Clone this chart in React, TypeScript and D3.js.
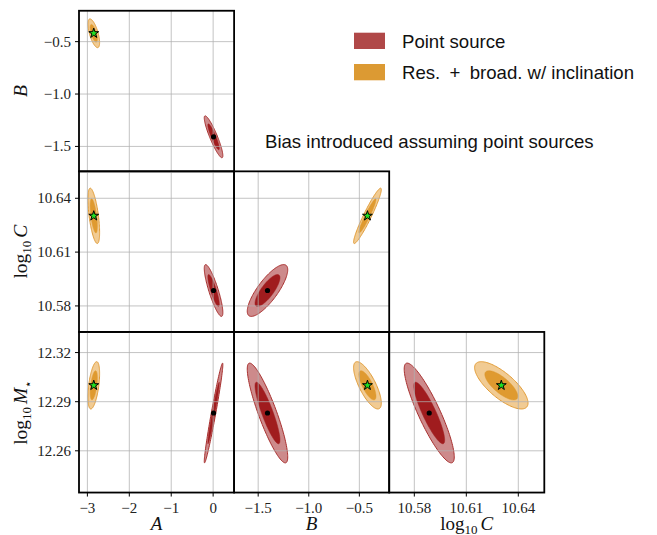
import React, { useEffect, useRef } from 'react';
import * as d3 from 'd3';

// parameter order: A, B, log10 C, log10 M*
const params = ['A', 'B', 'C', 'M'];
const domains: Record<string, [number, number]> = {
  A: [-3.2, 0.5],
  B: [-1.738, -0.205],
  C: [10.5655, 10.655],
  M: [12.2345, 12.3326],
};
const ticksA = [-3, -2, -1, 0];
const ticksB = [-1.5, -1.0, -0.5];
const ticksC = [10.58, 10.61, 10.64];
const ticksM = [12.26, 12.29, 12.32];
const tickLabelsA = ['−3', '−2', '−1', '0'];
const tickLabelsB = ['−1.5', '−1.0', '−0.5'];
const tickLabelsC = ['10.58', '10.61', '10.64'];
const tickLabelsM = ['12.26', '12.29', '12.32'];

// point source fit (biased)
const pointMean = [0.01, -1.408, 10.5886, 12.2831];
const pointSigma = [0.0906, 0.0817, 0.0059, 0.01245];
const pointCorr: Record<string, number> = { AB: -0.9, AC: -0.85, AM: 0.97, BC: 0.8, BM: -0.88, CM: -0.88 };

// resolved + broadened fit with inclination (unbiased)
const truthMean = [-2.848, -0.42, 10.6302, 12.3];
const truthSigma = [0.057, 0.056, 0.0063, 0.0059];
const truthCorr: Record<string, number> = { AB: -0.65, AC: -0.6, AM: 0.5, BC: 0.95, BM: -0.75, CM: -0.75 };

const levels = [0.95, 0.68];
const legendLabels = ['Point source', 'Res.\u2002+\u2002broad. w/ inclination'];

export default function App() {
  const svgRef = useRef<SVGSVGElement>(null);
  const width = 657;
  const height = 535;

  useEffect(() => {
    const svg = d3.select(svgRef.current);
    svg.selectAll('*').remove();

    const left = 79;
    const top = 10.75;
    const pw = 155.1;
    const ph = 160.6;
    const serif = 'Liberation Serif, serif';
    const sans = 'Liberation Sans, sans-serif';

    const ticks: Record<string, number[]> = { A: ticksA, B: ticksB, C: ticksC, M: ticksM };
    const tickLabels: Record<string, string[]> = { A: tickLabelsA, B: tickLabelsB, C: tickLabelsC, M: tickLabelsM };

    const sets = [
      { mean: pointMean, sigma: pointSigma, corr: pointCorr, fills: ['#cd8a8b', '#a01c1e'], edge: '#a8302f' },
      { mean: truthMean, sigma: truthSigma, corr: truthCorr, fills: ['#f1cb93', '#df9a30'], edge: '#e29c36' },
    ];

    const line = d3.line().curve(d3.curveLinearClosed);

    function ellipse(mx: number, my: number, sx: number, sy: number, rho: number, r: number) {
      return d3.range(120).map(k => {
        const t = (2 * Math.PI * k) / 120;
        const u = Math.cos(t);
        const v = Math.sin(t);
        return [mx + r * sx * u, my + r * sy * (rho * u + Math.sqrt(1 - rho * rho) * v)];
      });
    }

    for (let row = 0; row < 3; row++) {
      for (let col = 0; col <= row; col++) {
        const xi = col;
        const yi = row + 1;
        const xp = params[xi];
        const yp = params[yi];
        const x0 = left + col * pw;
        const y0 = top + row * ph;
        const x = d3.scaleLinear().domain(domains[xp]).range([x0, x0 + pw]);
        const y = d3.scaleLinear().domain(domains[yp]).range([y0 + ph, y0]);

        const g = svg.append('g');
        const clipId = `clip-${row}-${col}`;
        g.append('clipPath').attr('id', clipId)
          .append('rect').attr('x', x0).attr('y', y0).attr('width', pw).attr('height', ph);
        const inner = g.append('g').attr('clip-path', `url(#${clipId})`);

        // contours
        sets.forEach(s => {
          const rho = s.corr[xp + yp];
          levels.forEach((p, li) => {
            const r = Math.sqrt(-2 * Math.log(1 - p));
            const pts = ellipse(s.mean[xi], s.mean[yi], s.sigma[xi], s.sigma[yi], rho, r)
              .map(d => [x(d[0]), y(d[1])] as [number, number]);
            inner.append('path')
              .attr('d', line(pts))
              .attr('fill', s.fills[li])
              .attr('stroke', li === 0 ? s.edge : s.fills[li])
              .attr('stroke-width', li === 0 ? 1 : 0.5);
          });
        });

        // grid on top, semi transparent
        ticks[xp].forEach(t => {
          inner.append('line').attr('x1', x(t)).attr('x2', x(t)).attr('y1', y0).attr('y2', y0 + ph)
            .attr('stroke', '#b0b0b0').attr('stroke-width', 1).attr('opacity', 0.75);
        });
        ticks[yp].forEach(t => {
          inner.append('line').attr('x1', x0).attr('x2', x0 + pw).attr('y1', y(t)).attr('y2', y(t))
            .attr('stroke', '#b0b0b0').attr('stroke-width', 1).attr('opacity', 0.75);
        });

        // markers
        inner.append('circle')
          .attr('cx', x(pointMean[xi])).attr('cy', y(pointMean[yi])).attr('r', 2.6).attr('fill', '#000');
        inner.append('path')
          .attr('d', d3.symbol(d3.symbolStar, 30)())
          .attr('transform', `translate(${x(truthMean[xi])},${y(truthMean[yi])})`)
          .attr('fill', '#22e022').attr('stroke', '#000').attr('stroke-width', 1);

        // frame
        g.append('rect').attr('x', x0).attr('y', y0).attr('width', pw).attr('height', ph)
          .attr('fill', 'none').attr('stroke', '#000').attr('stroke-width', 1.8);

        // left ticks
        if (col === 0) {
          ticks[yp].forEach((t, k) => {
            g.append('line').attr('x1', x0 - 4).attr('x2', x0).attr('y1', y(t)).attr('y2', y(t))
              .attr('stroke', '#000').attr('stroke-width', 1);
            g.append('text').attr('x', x0 - 8).attr('y', y(t)).attr('dy', '0.33em')
              .attr('text-anchor', 'end').attr('font-family', serif).attr('font-size', 15)
              .attr('fill', '#222').text(tickLabels[yp][k]);
          });
        }
        // bottom ticks
        if (row === 2) {
          ticks[xp].forEach((t, k) => {
            g.append('line').attr('x1', x(t)).attr('x2', x(t)).attr('y1', y0 + ph).attr('y2', y0 + ph + 4)
              .attr('stroke', '#000').attr('stroke-width', 1);
            g.append('text').attr('x', x(t)).attr('y', y0 + ph + 20)
              .attr('text-anchor', 'middle').attr('font-family', serif).attr('font-size', 15)
              .attr('fill', '#222').text(tickLabels[xp][k]);
          });
        }
      }
    }

    // axis labels
    function label(sel: any, name: string) {
      if (name === 'A' || name === 'B') {
        sel.append('tspan').attr('font-style', 'italic').text(name);
      } else {
        sel.append('tspan').text('log');
        sel.append('tspan').attr('font-size', 13).attr('dy', 4).text('10');
        sel.append('tspan').attr('dy', -4).attr('dx', 3).attr('font-style', 'italic').text(name);
        if (name === 'M') {
          sel.append('tspan').attr('font-size', 12).attr('dy', 5).text('⋆');
        }
      }
    }
    ['B', 'C', 'M'].forEach((p, r) => {
      const cy = top + r * ph + ph / 2;
      const t = svg.append('text')
        .attr('transform', `translate(27,${cy}) rotate(-90)`)
        .attr('text-anchor', 'middle').attr('font-family', serif).attr('font-size', 19.5).attr('fill', '#111');
      label(t, p);
    });
    ['A', 'B', 'C'].forEach((p, c) => {
      const cx = left + c * pw + pw / 2;
      const t = svg.append('text')
        .attr('x', cx).attr('y', 530)
        .attr('text-anchor', 'middle').attr('font-family', serif).attr('font-size', 19).attr('fill', '#111');
      label(t, p);
    });

    // legend
    const legendColors = ['#b04848', '#dc9a33'];
    legendLabels.forEach((l, k) => {
      svg.append('rect').attr('x', 354).attr('y', 32.7 + k * 31.3).attr('width', 31).attr('height', 16.3)
        .attr('fill', legendColors[k]);
      svg.append('text').attr('x', 402).attr('y', 47.7 + k * 31.5)
        .attr('font-family', sans).attr('font-size', 18.6).attr('fill', '#111').text(l);
    });
    svg.append('text').attr('x', 265).attr('y', 147.5)
      .attr('font-family', sans).attr('font-size', 18.6).attr('fill', '#111')
      .text('Bias introduced assuming point sources');
  }, []);

  return (
    <svg
      ref={svgRef}
      width={width}
      height={height}
      style={{ position: 'absolute', left: 0, top: 0, background: '#fff' }}
    />
  );
}
